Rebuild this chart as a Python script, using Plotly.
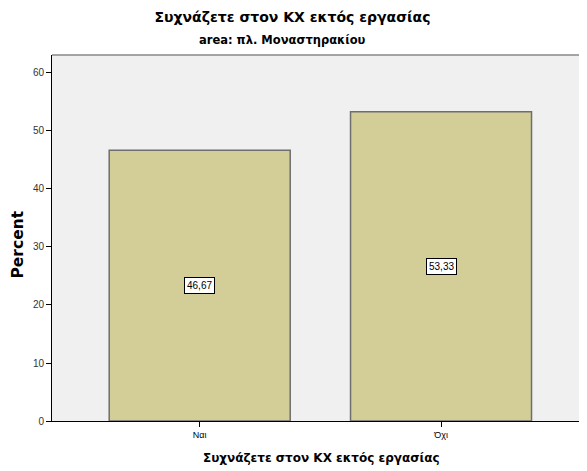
import plotly.graph_objects as go

categories = ["Ναι", "Όχι"]
percents = [46.67, 53.33]
labels = ["46,67", "53,33"]
y_ticks = [0, 10, 20, 30, 40, 50, 60]

title = "Συχνάζετε στον ΚΧ εκτός εργασίας"
subtitle = "area: πλ. Μοναστηρακίου"
x_title = "Συχνάζετε στον ΚΧ εκτός εργασίας"
y_title = "Percent"

ARIAL = "Liberation Sans, Arial, sans-serif"
WIDE = "DejaVu Sans, Verdana, sans-serif"

W, H = 587, 471
ML, MT, MB, MR = 44, 47, 58, 0
PLOT_W = W - ML - MR
PLOT_H = H - MT - MB

fig = go.Figure()
fig.add_trace(go.Bar(
    x=[0, 1], y=percents, width=0.75,
    marker=dict(color="#D3CE97", line=dict(color="#6E6E6E", width=1.5)),
    hoverinfo="skip",
))

for i, (v, lab) in enumerate(zip(percents, labels)):
    fig.add_annotation(
        x=i, y=v / 2, text=lab, showarrow=False,
        font=dict(family=ARIAL, size=10, color="#000000"),
        bgcolor="#FFFFFF", bordercolor="#000000", borderwidth=1, borderpad=2,
    )

# subtitle
fig.add_annotation(
    x=(274 - ML) / PLOT_W, xref="paper", y=1 + 15 / PLOT_H, yref="paper",
    xanchor="center", yanchor="middle", showarrow=False,
    text=f"<b>{subtitle}</b>",
    font=dict(family=WIDE, size=11.5, color="#000000"),
)
# x axis title
fig.add_annotation(
    x=(313 - ML) / PLOT_W, xref="paper", y=-37 / PLOT_H, yref="paper",
    xanchor="center", yanchor="middle", showarrow=False,
    text=f"<b>{x_title}</b>",
    font=dict(family=WIDE, size=12, color="#000000"),
)
# y axis title
fig.add_annotation(
    x=(9.5 - ML) / PLOT_W, xref="paper", y=1 - (237 - MT) / PLOT_H, yref="paper",
    xanchor="center", yanchor="middle", showarrow=False, textangle=-90,
    text=f"<b>{y_title}</b>",
    font=dict(family=WIDE, size=15.5, color="#000000"),
)

fig.update_layout(
    width=W, height=H,
    margin=dict(l=ML, r=MR, t=MT, b=MB),
    paper_bgcolor="#FFFFFF",
    plot_bgcolor="#F0F0F0",
    showlegend=False,
    font=dict(family=ARIAL, color="#000000"),
    title=dict(
        text=f"<b>{title}</b>",
        x=284.5 / W, xanchor="center", xref="container",
        y=1 - 9 / H, yanchor="middle", yref="container",
        font=dict(family=WIDE, size=14, color="#000000"),
    ),
    xaxis=dict(
        range=[-0.612, 1.638],
        tickmode="array", tickvals=[0, 1], ticktext=categories,
        ticks="outside", ticklen=5, tickcolor="#000000",
        showline=True, linecolor="#000000", linewidth=1,
        showgrid=False, zeroline=False,
        tickfont=dict(family=ARIAL, size=9, color="#000000"),
    ),
    yaxis=dict(
        range=[0, 63.1],
        tickmode="array", tickvals=y_ticks,
        ticks="outside", ticklen=5, tickcolor="#000000",
        showline=True, linecolor="#000000", linewidth=1,
        showgrid=False, zeroline=False,
        tickfont=dict(family=ARIAL, size=10, color="#333333"),
    ),
)

fig.add_shape(type="line", xref="paper", yref="paper", x0=0, x1=1, y0=1, y1=1,
              line=dict(color="#888888", width=1.5))

fig.write_html("out.html")
